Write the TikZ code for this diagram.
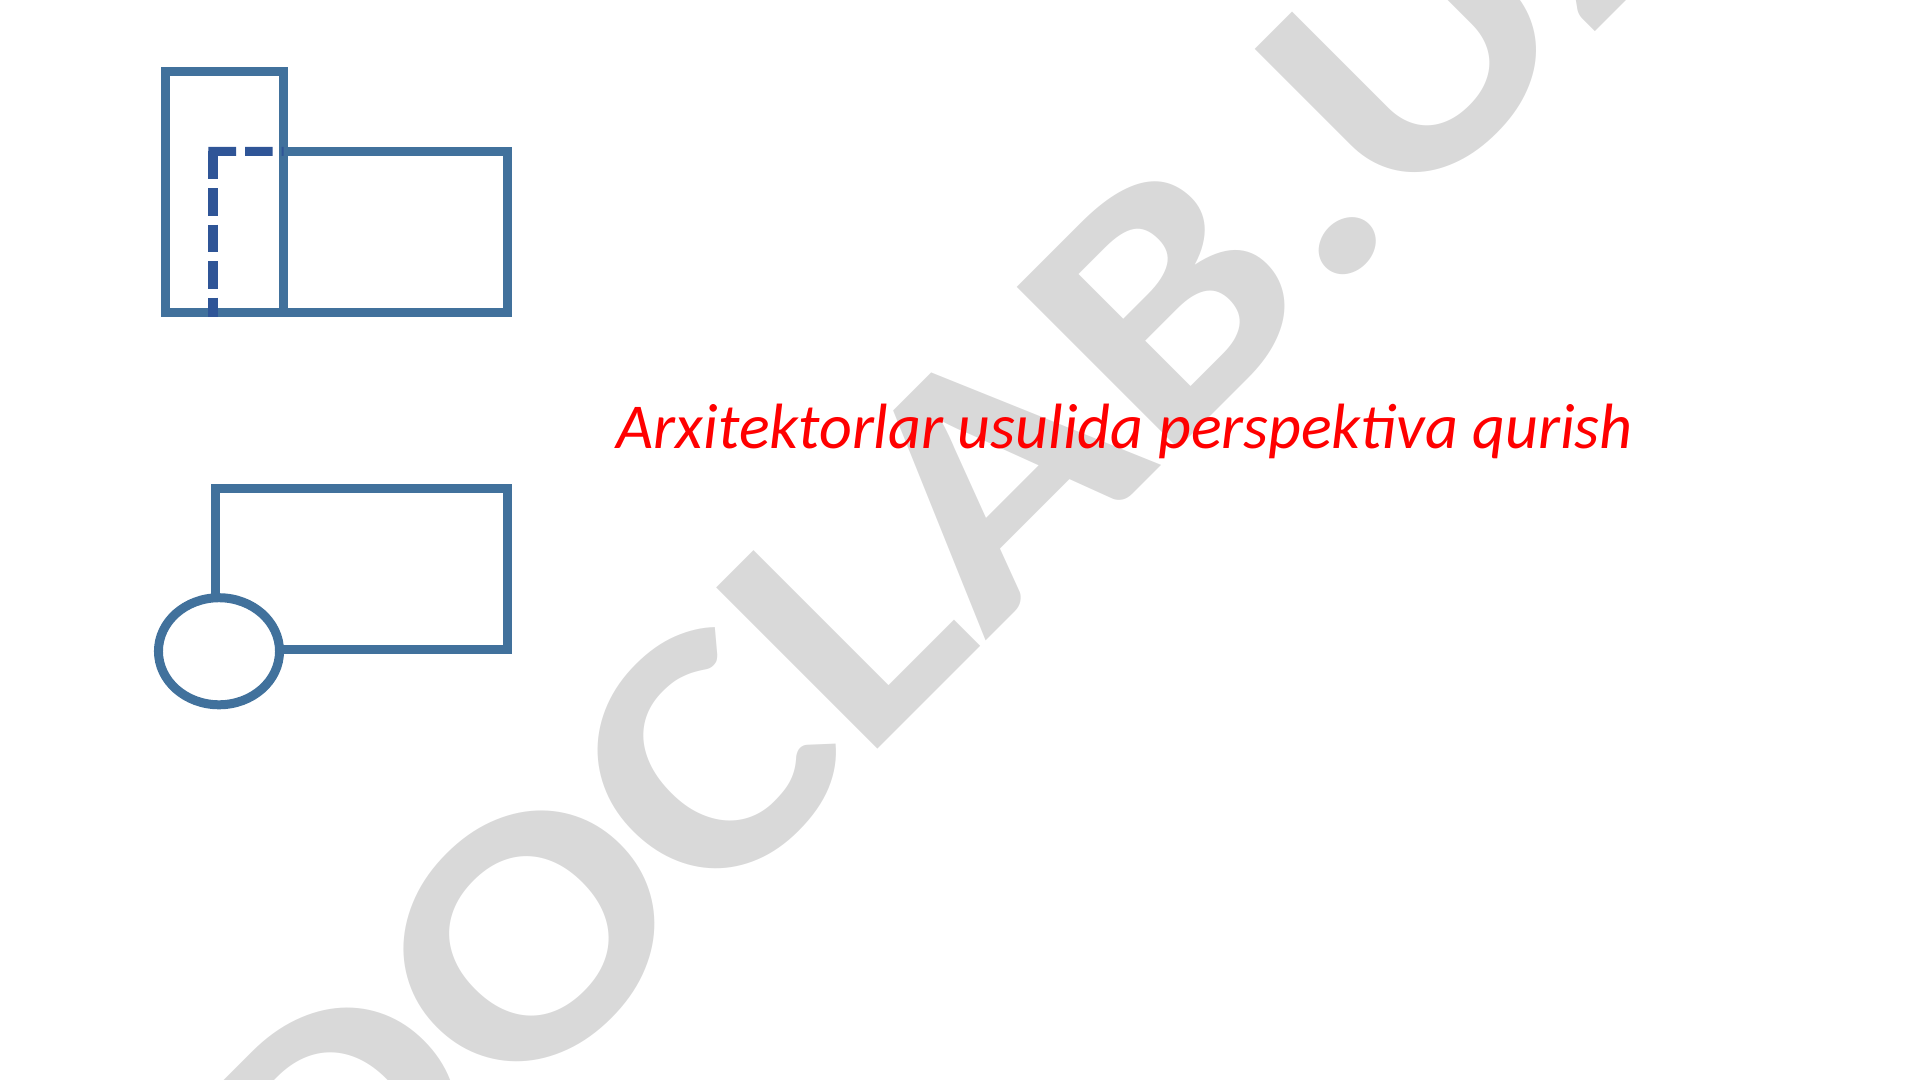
\documentclass[tikz,border=0pt]{standalone}
\usepackage{fontspec}
\setmainfont{Carlito}
\usepackage{tikz}
\usetikzlibrary{positioning,shapes.geometric}
\definecolor{frameblue}{HTML}{41719C}
\definecolor{dashblue}{HTML}{2F5597}
\definecolor{titlered}{HTML}{FF0000}
\definecolor{markgray}{HTML}{D9D9D9}

\begin{document}
\begin{tikzpicture}[x=0.01cm, y=-0.01cm,
      fr/.style={draw=frameblue, line width=0.09cm, inner sep=0pt, outer sep=0pt},
      tallw/.style={minimum width=1.18cm, minimum height=2.41cm},
      widew/.style={minimum width=2.24cm, minimum height=1.61cm},
      basew/.style={minimum width=2.92cm, minimum height=1.61cm},
      hid/.style={draw=dashblue, line width=0.09cm, dash pattern=on 0.275cm off 0.09cm},
      every node/.style={align=center}]
    \useasboundingbox (0,0) rectangle (1920,1080);
    \node[anchor=base west, rotate=45, xscale=1.17, inner sep=0pt, text=markgray, font=\bfseries\fontsize{100}{120}\selectfont](mark) at (328,1299) {DOCLAB.UZ};

    \node[fr, tallw](tall) at (224.5,192) {};
    \node[fr, widew, right=0pt of tall.south east, anchor=south west](wide) {};
    \coordinate (corner) at (213,151.5);
    \draw[hid] ([xshift=-0.045cm]corner) -- (wide.north west);
    \draw[hid] (corner) -- ([yshift=-0.045cm]corner |- tall.south);

    \node[fr, basew, below=1.76cm of wide.south east, anchor=north east](base) {};
    \node[fr, ellipse, fill=white, minimum width=1.21cm, minimum height=1.07cm, xshift=0.035cm, yshift=-0.015cm](eye) at (base.south west) {};

    \node[anchor=base west, text=titlered, font=\itshape\fontsize{18.2}{22}\selectfont](title) at (604.5,449) {Arxitektorlar usulida perspektiva qurish};
  \end{tikzpicture}
\end{document}
